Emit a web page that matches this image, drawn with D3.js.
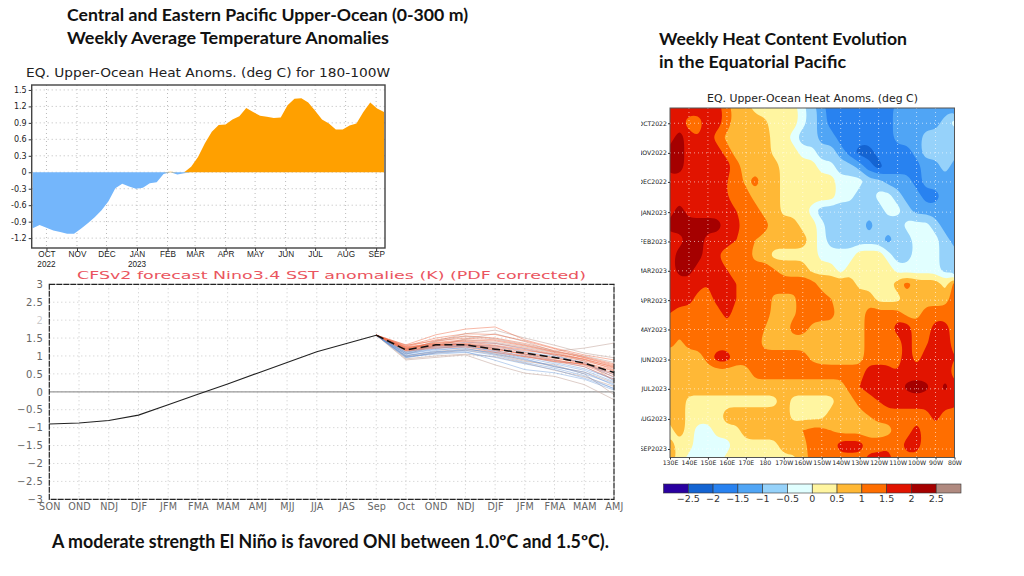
<!DOCTYPE html>
<html>
<head>
<meta charset="utf-8">
<script src="https://d3js.org/d3.v7.min.js"></script>
<style>
html,body{margin:0;padding:0;background:#fff}
svg{display:block}
.head{font-family:Lato,"Open Sans",sans-serif;font-weight:700;fill:#111}
.gr{font-family:"DejaVu Sans",sans-serif}
.nr{font-family:"Liberation Sans Narrow","Liberation Sans",sans-serif}
</style>
</head>
<body>
<svg id="c" width="1024" height="576"></svg>
<script>
// ---------- Top-left: weekly 0-300 m anomalies ----------
const heatStart = new Date(2022, 8, 17);
const heatValues = [-1.02,-0.96,-1.01,-1.06,-1.09,-1.12,-1.12,-1.03,-0.93,-0.82,-0.69,-0.53,-0.29,-0.21,-0.26,-0.30,-0.28,-0.20,-0.18,-0.03,0.01,-0.04,-0.02,0.10,0.28,0.53,0.74,0.86,0.87,0.96,1.02,1.17,1.10,1.03,1.01,0.99,1.00,1.22,1.34,1.35,1.27,1.12,0.96,0.89,0.78,0.78,0.85,0.89,1.10,1.27,1.16,1.10];
const heatYTicks = [1.5,1.2,0.9,0.6,0.3,0,-0.3,-0.6,-0.9,-1.2];
const heatMonths = ["OCT","NOV","DEC","JAN","FEB","MAR","APR","MAY","JUN","JUL","AUG","SEP"];
const heatMonthDates = [[2022,9],[2022,10],[2022,11],[2023,0],[2023,1],[2023,2],[2023,3],[2023,4],[2023,5],[2023,6],[2023,7],[2023,8]];

// ---------- Bottom-left: CFSv2 Nino3.4 ----------
const ninoLabels = ["SON","OND","NDJ","DJF","JFM","FMA","MAM","AMJ","MJJ","JJA","JAS","Sep","Oct","OND","NDJ","DJF","JFM","FMA","MAM","AMJ"];
const ninoObserved = [-0.90,-0.87,-0.80,-0.65,-0.36,-0.07,0.22,0.52,0.82,1.12,1.35,1.58];
const ninoMean = [1.17,1.31,1.31,1.19,1.08,0.96,0.80,0.54];
const ninoYTicks = [3,2.5,2,1.5,1,0.5,0,-0.5,-1,-1.5,-2,-2.5,-3];
const membersRed = [
[1.31,1.59,1.75,1.81,1.45,1.22,1.03,.89],
[1.28,1.50,1.62,1.60,1.42,1.20,.98,.78],
[1.26,1.45,1.56,1.50,1.35,1.15,.95,.72],
[1.30,1.42,1.50,1.45,1.30,1.12,.96,.75],
[1.22,1.38,1.45,1.42,1.28,1.10,.90,.62],
[1.25,1.36,1.42,1.35,1.22,1.05,.90,.70],
[1.20,1.35,1.40,1.30,1.18,1.02,.86,.66],
[1.24,1.33,1.36,1.28,1.15,1.05,.92,.68],
[1.18,1.30,1.34,1.25,1.10,.95,.78,.52],
[1.22,1.32,1.30,1.20,1.05,.90,.74,.42],
[1.17,1.25,1.28,1.18,1.06,.94,.82,.60],
[1.15,1.28,1.33,1.22,1.02,.85,.70,.35],
[1.20,1.30,1.32,1.15,.98,.84,.78,.58],
[1.14,1.22,1.25,1.10,.98,.88,.76,.48]];
const membersBlue = [
[1.02,1.12,1.15,1.02,.82,.66,.45,.08],
[.95,1.08,1.12,.88,.62,.53,.35,.05],
[1.05,1.18,1.22,1.05,.90,.72,.50,.22],
[.98,1.05,1.10,.96,.78,.62,.38,.10],
[1.08,1.22,1.28,1.12,.95,.78,.60,.28],
[1.00,1.15,1.25,1.15,1.0,.82,.64,.36],
[1.10,1.25,1.32,1.22,1.05,.88,.70,.32],
[1.12,1.28,1.38,1.35,1.20,1.02,.78,.48],
[1.06,1.20,1.30,1.28,1.12,.98,.82,.40],
[.96,1.10,1.18,1.10,.92,.70,.55,.18]];
const membersPale = [
[.89,.96,1.03,.75,.52,.43,.20,-.22],
[1.05,1.28,1.48,1.62,1.40,1.13,1.22,1.36],
[1.15,1.42,1.62,1.72,1.50,1.30,1.08,.95],
[.92,1.00,1.05,.98,.80,.60,.42,.15],
[1.10,1.30,1.45,1.38,1.25,1.08,.86,.30],
[1.18,1.40,1.55,1.48,1.32,1.12,1.00,.82],
[1.0,1.12,1.20,1.08,.88,.70,.55,.25],
[.98,1.08,1.16,1.05,.85,.75,.50,-.08]];

// ---------- Right: Hovmoller (rows half-month apart, columns 5 deg apart, 130E-80W; tenths of deg C) ----------
const hovGrid = [
[18,18,18,18,18,18,12,8,8,3,3,3,3,3,-3,-8,-12,-18,-18,-18,-18,-18,-18,-18,-12,-12,-12,-12,-12,-12,-12],
[18,18,12,12,18,18,12,8,8,8,6,3,3,3,-3,-8,-12,-18,-18,-18,-20,-20,-18,-18,-12,-12,-12,-12,-12,-8,-3],
[18,22,18,15,18,12,9,8,8,8,8,3,3,-3,-8,-8,-12,-12,-18,-18,-18,-18,-18,-18,-12,-12,-12,-8,-8,-8,-8],
[22,22,18,18,18,18,12,8,8,8,8,3,3,3,-3,-3,-8,-8,-12,-18,-22,-22,-18,-18,-18,-18,-12,-8,-8,-8,-8],
[22,22,18,18,18,18,18,12,8,8,8,8,3,3,3,3,-3,-3,-8,-8,-12,-18,-22,-18,-18,-18,-18,-12,-12,-8,-12],
[18,18,18,18,18,18,15,12,9,12,8,8,3,3,3,3,3,3,-3,-3,-3,-8,-8,-12,-12,-12,-18,-12,-12,-12,-12],
[18,18,18,18,18,18,15,12,12,8,8,8,3,3,3,3,3,3,-3,-3,-8,-8,-3,-3,-8,-12,-12,-18,-18,-12,-12],
[18,22,18,18,18,18,18,15,12,12,8,8,3,3,3,-3,-8,-8,-8,-8,-8,-8,-8,-3,-3,-8,-12,-12,-12,-12,-12],
[22,22,22,22,22,22,18,18,12,12,12,8,8,8,3,3,-3,-8,-8,-8,-8,-12,-8,-8,-8,-3,-3,-3,-8,-12,-12],
[18,18,22,22,18,18,18,15,12,10,8,8,8,8,8,3,-3,-8,-8,-8,-8,-8,-8,-12,-8,-8,-3,-3,-3,-8,-12],
[18,22,22,22,18,15,12,12,12,8,8,3,3,3,3,3,-3,-3,-3,-3,3,3,3,-3,-8,-8,-3,-3,-3,-8,-8],
[18,22,22,18,18,18,15,12,12,12,12,10,8,8,8,3,3,3,-3,3,3,3,3,3,-3,-3,-3,-3,-3,-8,-8],
[18,18,18,18,15,18,18,15,12,12,12,12,12,12,12,12,8,8,8,8,3,3,3,3,8,12,8,8,8,3,12],
[18,18,18,12,12,18,18,15,12,12,12,9,9,9,12,12,12,10,8,8,8,8,3,3,3,8,8,8,8,8,12],
[15,12,12,12,12,12,18,12,12,12,12,9,9,9,12,12,12,12,8,8,8,12,12,12,12,8,8,12,12,12,15],
[12,12,12,12,12,12,12,12,12,12,10,8,8,12,12,9,8,8,8,8,8,12,12,12,18,18,12,12,18,18,12],
[12,9,12,12,12,12,12,12,12,12,8,8,8,8,8,8,8,8,8,8,8,12,12,12,12,18,12,14,18,18,12],
[8,8,8,8,12,18,18,12,12,12,12,12,12,12,12,9,8,8,8,8,8,12,12,12,12,18,12,18,18,18,15],
[10,8,8,8,8,8,8,8,8,12,12,12,12,12,12,12,12,12,12,12,12,18,18,18,15,18,18,18,18,18,12],
[8,8,8,8,8,8,8,8,8,8,8,8,8,8,8,8,8,8,8,12,15,18,18,18,18,21,22,21,18,21,18],
[8,8,3,3,3,3,3,3,3,3,3,3,8,3,3,3,3,3,8,8,12,12,15,18,18,18,18,18,18,18,18],
[8,8,3,3,3,3,8,8,8,8,8,8,8,3,3,3,3,8,8,8,8,10,12,12,12,12,12,12,18,12,12],
[3,8,3,-3,-3,3,3,3,8,8,8,8,8,8,10,12,12,10,8,8,8,8,8,8,12,12,18,12,12,12,12],
[8,3,3,-3,-3,-3,-3,3,3,3,3,3,8,8,8,12,12,12,18,18,18,12,12,14,12,18,18,12,12,12,12],
[8,3,-3,-3,-3,-3,3,3,3,3,3,3,3,3,8,12,12,12,12,12,12,18,18,18,12,12,12,12,12,12,12]
];
const hovThresholds = [-25,-20,-15,-10,-5,0,5,10,15,20,25];
const hovColors = ["#2a00a0","#1464d2","#2882f0","#50a5f5","#96d2fa","#e1ffff","#fff5a0","#ffb836","#ff6e00","#e11400","#a50000","#b08a80"];
const hovLegendLabels = ["\u22122.5","\u22122","\u22121.5","\u22121","\u22120.5","0","0.5","1","1.5","2","2.5"];
const hovLonTicks = [130,140,150,160,170,180,190,200,210,220,230,240,250,260,270,280];
const hovLonLabels = ["130E","140E","150E","160E","170E","180","170W","160W","150W","140W","130W","120W","110W","100W","90W","80W"];
const hovMonthLabels = ["OCT2022","NOV2022","DEC2022","JAN2023","FEB2023","MAR2023","APR2023","MAY2023","JUN2023","JUL2023","AUG2023","SEP2023"];
const hovMonthRows = [1.04,3.06,5.04,7.1,9.1,11.1,13.1,15.1,17.15,19.15,21.2,23.25];

const svg = d3.select("#c");
svg.append("rect").attr("width",1024).attr("height",576).attr("fill","#fff");

function head(x,y,t,size,len){ svg.append("text").attr("class","head").attr("x",x).attr("y",y).attr("font-size",size).attr("textLength",len).attr("lengthAdjust","spacingAndGlyphs").text(t); }
head(67,21,"Central and Eastern Pacific Upper-Ocean (0-300 m)",17.8,401);
head(67,44,"Weekly Average Temperature Anomalies",17.8,322);
head(659,45,"Weekly Heat Content Evolution",17.8,248);
head(659,68,"in the Equatorial Pacific",17.8,187);
head(52,547.5,"A moderate strength El Niño is favored ONI between 1.0ºC and 1.5ºC).",18,557);

// ---- top-left chart ----
(function(){
  const L=31.7,R=385,T=85,B=248;
  const dates = heatValues.map((_,i)=>d3.timeDay.offset(heatStart,i*7));
  const x = d3.scaleTime().domain([new Date(2022,8,16),new Date(2023,8,10)]).range([L,R]);
  const y = d3.scaleLinear().domain([-1.38,1.59]).range([B,T]);
  const g = svg.append("g");
  const ticksX = heatMonthDates.map(d=>new Date(d[0],d[1],1));
  g.selectAll("line.gx").data(ticksX).join("line").attr("x1",d=>x(d)).attr("x2",d=>x(d)).attr("y1",T).attr("y2",B)
    .attr("stroke","#bbb").attr("stroke-width",1).attr("stroke-dasharray","1,3");
  g.selectAll("line.gy").data(heatYTicks).join("line").attr("x1",L).attr("x2",R).attr("y1",d=>y(d)).attr("y2",d=>y(d))
    .attr("stroke","#bbb").attr("stroke-width",1).attr("stroke-dasharray","1,3");
  const pts = heatValues.map((v,i)=>({d:dates[i],v}));
  const areaPos = d3.area().x(p=>x(p.d)).y0(y(0)).y1(p=>y(Math.max(0,p.v)));
  const areaNeg = d3.area().x(p=>x(p.d)).y0(y(0)).y1(p=>y(Math.min(0,p.v)));
  g.append("path").datum(pts).attr("d",areaNeg).attr("fill","#74b6fb");
  g.append("path").datum(pts).attr("d",areaPos).attr("fill","#ffa000");
  const ax = g.append("g").attr("transform",`translate(${L},0)`).call(d3.axisLeft(y).tickValues(heatYTicks).tickSize(3).tickFormat(d=>d===0?"0":d3.format(".1f")(d).replace("\u2212","-")));
  ax.select(".domain").remove();
  ax.selectAll("line").attr("stroke","#333");
  ax.selectAll("text").attr("class","gr").attr("font-size",8).attr("fill","#222").attr("x",-5).attr("text-anchor","end");
  const ab = g.append("g").attr("transform",`translate(0,${B})`).call(d3.axisBottom(x).tickValues(ticksX).tickSize(3).tickFormat((d,i)=>heatMonths[i]));
  ab.select(".domain").remove();
  ab.selectAll("line").attr("stroke","#333");
  ab.selectAll("text").attr("class","nr").attr("font-size",8.2).attr("fill","#222").attr("y",3.5);
  [["2022",0],["2023",3]].forEach(a=>g.append("text").attr("class","nr").attr("x",x(ticksX[a[1]])).attr("y",267.2).attr("text-anchor","middle").attr("font-size",8.2).attr("fill","#222").text(a[0]));
  g.append("rect").attr("x",L).attr("y",T).attr("width",R-L).attr("height",B-T).attr("fill","none").attr("stroke","#444").attr("stroke-width",1.4);
  svg.append("text").attr("class","gr").attr("x",26).attr("y",77).attr("font-size",12).attr("fill","#222").attr("textLength",364).attr("lengthAdjust","spacingAndGlyphs").text("EQ. Upper-Ocean Heat Anoms. (deg C) for 180-100W");
})();

// ---- bottom-left chart ----
(function(){
  const L=49.3,R=614,T=284.3,B=499.3;
  svg.append("rect").attr("x",0).attr("y",268).attr("width",620).attr("height",18).attr("fill","#fff");
  svg.append("text").attr("class","gr").attr("x",77).attr("y",278.5).attr("font-size",11).attr("fill","#ea5560").attr("textLength",509).attr("lengthAdjust","spacingAndGlyphs").text("CFSv2 forecast Nino3.4 SST anomalies (K) (PDF corrected)");
  const x = d3.scaleLinear().domain([0,ninoLabels.length-1]).range([L,R]);
  const y = d3.scaleLinear().domain([-3,3]).range([B,T]);
  const g = svg.append("g");
  g.selectAll("line.gx").data(d3.range(1,ninoLabels.length)).join("line").attr("x1",d=>x(d)).attr("x2",d=>x(d)).attr("y1",T).attr("y2",B)
    .attr("stroke","#c8c8c8").attr("stroke-width",1).attr("stroke-dasharray","1,3");
  g.selectAll("line.gy").data(ninoYTicks).join("line").attr("x1",L).attr("x2",R).attr("y1",d=>y(d)).attr("y2",d=>y(d))
    .attr("stroke","#c8c8c8").attr("stroke-width",1).attr("stroke-dasharray","1,3");
  g.append("line").attr("x1",L).attr("x2",R).attr("y1",y(0)).attr("y2",y(0)).attr("stroke","#999").attr("stroke-width",1.2);
  const line = d3.line().x((v,i)=>x(i)).y(v=>y(v));
  const line2 = d3.line().x((v,i)=>x(i+11)).y(v=>y(v));
  const start = ninoObserved[ninoObserved.length-1];
  const fc = (m,col,op,w)=>g.append("g").selectAll("path").data(m).join("path").attr("d",d=>line2([start].concat(d))).attr("fill","none").attr("stroke",col).attr("stroke-width",w).attr("stroke-opacity",op);
  fc(membersPale,"#c8ada4",0.75,0.8);
  fc(membersBlue,"#5b8fd8",0.5,0.8);
  fc(membersRed,"#ee6a45",0.6,0.8);
  g.append("path").attr("d",line(ninoObserved)).attr("fill","none").attr("stroke","#222").attr("stroke-width",1.1);
  g.append("path").attr("d",line2([start].concat(ninoMean))).attr("fill","none").attr("stroke","#111").attr("stroke-width",1.5).attr("stroke-dasharray","8,4");
  const ax = g.append("g").attr("transform",`translate(${L},0)`).call(d3.axisLeft(y).tickValues(ninoYTicks).tickSize(0).tickFormat(d=>String(d).replace("-","\u2212")));
  ax.select(".domain").remove();
  ax.selectAll("text").attr("class","gr").attr("font-size",10).attr("fill","#666").attr("x",-6).attr("letter-spacing",0.5)
    .attr("fill-opacity",d=>d===2?0.35:1);
  const ab = g.append("g").attr("transform",`translate(0,${B})`).call(d3.axisBottom(x).tickValues(d3.range(ninoLabels.length)).tickSize(0).tickFormat((d,i)=>ninoLabels[i]));
  ab.select(".domain").remove();
  ab.selectAll("text").attr("class","gr").attr("font-size",9.6).attr("fill","#666").attr("y",4).attr("letter-spacing",0.2);
  g.append("rect").attr("x",L).attr("y",T).attr("width",R-L).attr("height",B-T).attr("fill","none").attr("stroke","#222").attr("stroke-width",1.2).attr("stroke-dasharray","6,1");
})();

// ---- right chart ----
(function(){
  const L=670,R=954.5,T=108,B=457.5;
  const x = d3.scaleLinear().domain([130,280]).range([L,R]);
  const yRow = d3.scaleLinear().domain([0,24]).range([108,460]);
  const nr = hovGrid.length, nc = hovGrid[0].length;
  const flat = hovGrid.flat();
  const defs = svg.append("defs");
  defs.append("clipPath").attr("id","hc").append("rect").attr("x",L).attr("y",T).attr("width",R-L).attr("height",B-T);
  defs.append("clipPath").attr("id","hl").append("rect").attr("x",641).attr("y",T).attr("width",L-641).attr("height",B-T+5);
  const g = svg.append("g").attr("clip-path","url(#hc)");
  g.append("rect").attr("x",L).attr("y",T).attr("width",R-L).attr("height",B-T).attr("fill",hovColors[0]);
  const cs = d3.contours().size([nc,nr]).smooth(true).thresholds(hovThresholds)(flat);
  const ringLine = d3.line().x(p=>x(130+5*(p[0]-0.5))).y(p=>yRow(p[1]-0.5)).curve(d3.curveBasisClosed);
  cs.forEach((c,i)=>{
    const dStr = c.coordinates.map(poly=>poly.map(r=>ringLine(r.slice(0,-1))).join("")).join("");
    g.append("path").attr("d",dStr).attr("fill",hovColors[i+1]).attr("fill-rule","evenodd");
  });
  g.selectAll("line.gx").data(hovLonTicks.slice(1,-1)).join("line").attr("x1",d=>x(d)).attr("x2",d=>x(d)).attr("y1",T).attr("y2",B)
    .attr("stroke","#fff").attr("stroke-opacity",.6).attr("stroke-dasharray","1,3");
  g.selectAll("line.gy").data(hovMonthRows).join("line").attr("x1",L).attr("x2",R).attr("y1",d=>yRow(d)).attr("y2",d=>yRow(d))
    .attr("stroke","#fff").attr("stroke-opacity",.6).attr("stroke-dasharray","1,3");
  svg.append("rect").attr("x",L).attr("y",T).attr("width",R-L).attr("height",B-T).attr("fill","none").attr("stroke","#555").attr("stroke-width",1);
  const ay = svg.append("g").attr("clip-path","url(#hl)").append("g").attr("transform",`translate(${L},0)`).call(d3.axisLeft(yRow).tickValues(hovMonthRows).tickSize(2).tickFormat((d,i)=>hovMonthLabels[i]));
  ay.select(".domain").remove();
  ay.selectAll("line").attr("stroke","#333");
  ay.selectAll("text").attr("class","gr").attr("font-size",6.2).attr("fill","#222").attr("x",-3).attr("text-anchor","end");
  const ab = svg.append("g").attr("transform",`translate(0,${B})`).call(d3.axisBottom(x).tickValues(hovLonTicks).tickSize(2).tickFormat((d,i)=>hovLonLabels[i]));
  ab.select(".domain").remove();
  ab.selectAll("line").attr("stroke","#333");
  ab.selectAll("text").attr("class","gr").attr("font-size",6.2).attr("fill","#222").attr("y",3);
  svg.append("text").attr("class","gr").attr("x",707).attr("y",102).attr("font-size",9.6).attr("fill","#222").attr("textLength",211).attr("lengthAdjust","spacingAndGlyphs").text("EQ. Upper-Ocean Heat Anoms. (deg C)");
  // legend
  const lx = d3.scaleLinear().domain([0,hovColors.length]).range([663.5,961]);
  const lg = svg.append("g");
  lg.selectAll("rect").data(hovColors).join("rect").attr("x",(d,i)=>lx(i)).attr("y",484).attr("width",lx(1)-lx(0)).attr("height",9).attr("fill",d=>d).attr("stroke","#333").attr("stroke-width",.6);
  lg.selectAll("text").data(hovLegendLabels).join("text").attr("class","gr").attr("x",(d,i)=>lx(i+1)).attr("y",502).attr("text-anchor","middle").attr("font-size",9.5).attr("fill","#333").text(d=>d);
})();
</script>
</body>
</html>
